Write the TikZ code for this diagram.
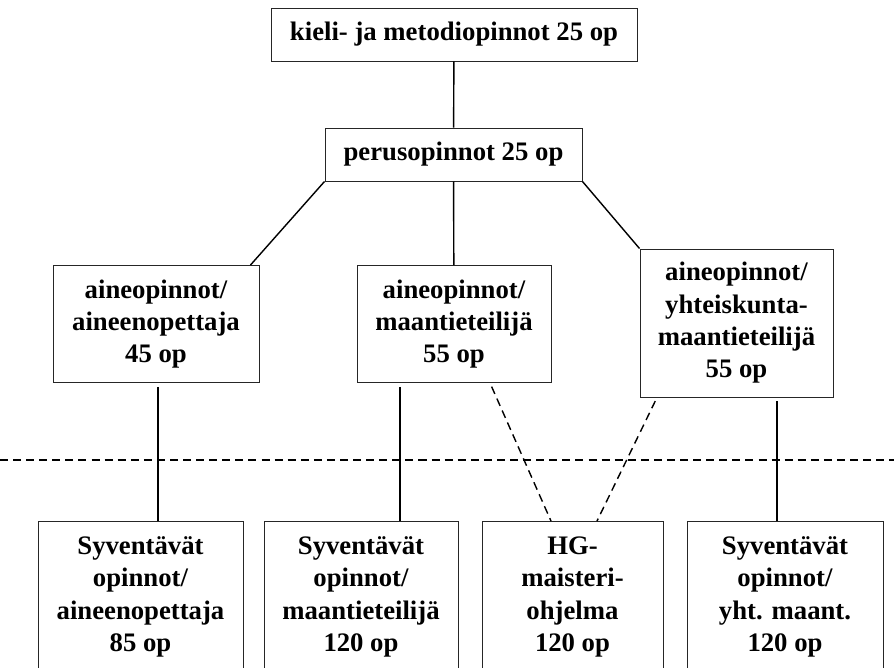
\documentclass[tikz,border=0pt]{standalone}
\usepackage{fontspec}
\setmainfont{Liberation Serif}
\usepackage{tikz}
\usetikzlibrary{positioning,calc}

\begin{document}
\begin{tikzpicture}[x=0.025cm,y=-0.025cm]
		\tikzset{
			opbox/.style={draw=black!85,line width=0.7pt,rectangle,align=center,inner sep=0pt,
				font=\fontsize{19}{23}\selectfont\bfseries},
			link/.style={line width=1pt},
			optlink/.style={line width=1pt,dash pattern=on 5.7pt off 3.6pt},
		}
		\clip (0,0) rectangle (894,667);
		\useasboundingbox (0,0) rectangle (894,667);
		\node[opbox,minimum width=366*0.025cm,minimum height=53*0.025cm] (kieli) at (454,34.5) {kieli- ja metodiopinnot 25 op};
		\node[opbox,minimum width=257*0.025cm,minimum height=53*0.025cm] (perus) at (453.5,154.5) {perusopinnot 25 op};
		\node[opbox,minimum width=206*0.025cm,minimum height=117*0.025cm] (aine1) at (156,324) {aineopinnot/\\aineenopettaja\\45 op};
		\node[opbox,minimum width=194*0.025cm,minimum height=117*0.025cm] (aine2) at (454,324) {aineopinnot/\\maantieteilijä\\55 op};
		\node[opbox,minimum width=193*0.025cm,minimum height=148*0.025cm] (aine3) at (736.5,323) {aineopinnot/\\yhteiskunta-\\maantieteilijä\\55 op};
		\node[opbox,minimum width=205*0.025cm,minimum height=151*0.025cm] (syv1) at (140.5,597) {Syventävät\\opinnot/\\aineenopettaja\\85 op};
		\node[opbox,minimum width=194*0.025cm,minimum height=151*0.025cm] (syv2) at (361,597) {Syventävät\\opinnot/\\maantieteilijä\\120 op};
		\node[opbox,minimum width=181*0.025cm,minimum height=151*0.025cm] (hg) at (572.5,597) {HG-\\maisteri-\\ohjelma\\120 op};
		\node[opbox,minimum width=196*0.025cm,minimum height=151*0.025cm] (syv4) at (785,597) {Syventävät\\opinnot/\\yht. maant.\\120 op};

		% border between the two study levels
		\coordinate (rajaL) at (0,460);
		\coordinate (rajaR) at (894,460);
		\draw[optlink] (rajaL) -- (rajaR);

		\draw[link] (kieli) -- (perus);
		\draw[link] (perus.south west) -- ($(aine1.north east)+(-9,0)$);
		\draw[link] (perus) -- (aine2);
		\draw[link] (perus.south east) -- (aine3.north west);

		\coordinate (a1) at ($(aine1.south)+(2,0)$);
		\coordinate (a2) at ($(aine2.south)+(-54,0)$);
		\coordinate (a3) at ($(aine3.south)+(40.5,0)$);
		\foreach \a/\s in {a1/syv1,a2/syv2,a3/syv4}{
				\draw[link,shorten <=2.8pt] (\a) -- (\a |- \s.north);
			}
		\draw[optlink,shorten <=2.8pt] ($(aine2.south)+(36,0)$) -- ($(hg.north)+(-21.5,0)$);
		\draw[optlink,shorten <=2.8pt] ($(aine3.south)+(-79.5,0)$) -- ($(hg.north)+(24.5,0)$);
	\end{tikzpicture}
\end{document}
